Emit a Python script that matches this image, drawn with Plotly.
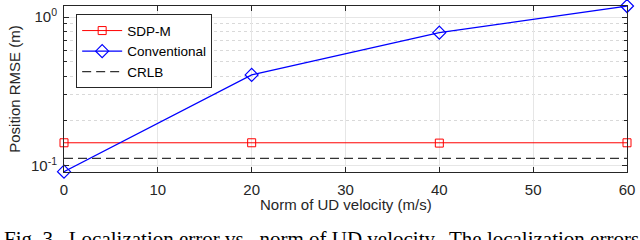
import plotly.graph_objects as go

velocity = [0, 20, 40, 60]
sdp_m = [0.1427, 0.1427, 0.1420, 0.1427]
conventional = [0.0912, 0.408, 0.785, 1.185]
crlb = [0.112, 0.112, 0.112, 0.112]
x_ticks = [0, 10, 20, 30, 40, 50, 60]
y_ticks = [0.1, 1]
y_ticktext = ["10<sup>-1</sup>", "10<sup>0</sup>"]
y_minor = [0.2, 0.3, 0.4, 0.5, 0.6, 0.7, 0.8, 0.9]

axis_color = "#262626"
font_main = "Liberation Sans, Arial, sans-serif"

fig = go.Figure()
fig.add_trace(go.Scatter(
    x=velocity, y=sdp_m, name="SDP-M", mode="lines+markers",
    line=dict(color="#ff0000", width=1),
    marker=dict(symbol="square-open", size=8, color="#ff0000", line=dict(width=1)),
    cliponaxis=False,
))
fig.add_trace(go.Scatter(
    x=velocity, y=conventional, name="Conventional", mode="lines+markers",
    line=dict(color="#0000ff", width=1.2),
    marker=dict(symbol="diamond-open", size=10, color="#0000ff", line=dict(width=1.2)),
    cliponaxis=False,
))
fig.add_trace(go.Scatter(
    x=velocity, y=crlb, name="CRLB", mode="lines",
    line=dict(color="#333333", width=1.2, dash="9px,5px"),
))

fig.update_layout(
    width=640, height=240,
    margin=dict(l=63.5, r=12.5, t=5.7, b=68.3, autoexpand=False),
    paper_bgcolor="white", plot_bgcolor="white",
    font=dict(family=font_main, size=15, color=axis_color),
    showlegend=True,
    legend=dict(
        x=0.0216, y=0.95, xanchor="left", yanchor="top",
        bgcolor="white", bordercolor=axis_color, borderwidth=1,
        font=dict(size=13.5, color="black"),
        tracegroupgap=0, itemwidth=40,
    ),
    xaxis=dict(
        range=[0, 60], tickvals=x_ticks, ticks="inside", ticklen=5,
        tickcolor=axis_color, showline=True, linecolor=axis_color, linewidth=1,
        mirror="ticks", showgrid=True, gridcolor="#e6e6e6", gridwidth=1,
        zeroline=False, ticklabelstandoff=4, automargin=False,
    ),
    yaxis=dict(
        type="log", range=[-1.042, 0.074], tickvals=y_ticks, ticktext=y_ticktext,
        ticks="inside", ticklen=5, tickcolor=axis_color,
        showline=True, linecolor=axis_color, linewidth=1, mirror="ticks",
        showgrid=True, gridcolor="#e6e6e6", gridwidth=1, zeroline=False,
        ticklabelstandoff=3, automargin=False,
        minor=dict(ticks="inside", ticklen=3, tickcolor=axis_color,
                   showgrid=True, gridcolor="#d9d9d9", griddash="dot",
                   tickvals=y_minor),
        title=dict(text="Position RMSE (m)", standoff=6, font=dict(size=15)),
    ),
)

fig.add_annotation(
    xref="paper", yref="paper", x=0.5, y=-0.195, xanchor="center", yanchor="middle",
    text="Norm of UD velocity (m/s)", showarrow=False,
    font=dict(family=font_main, size=15, color=axis_color),
)

fig.add_annotation(
    xref="paper", yref="paper", x=-0.1108, y=-0.4054, xanchor="left", yanchor="middle",
    text="Fig. 3.&nbsp; Localization error vs.&nbsp; norm of UD velocity.&nbsp; The localization errors",
    showarrow=False,
    font=dict(family="Liberation Serif, Times New Roman, serif", size=21, color="black"),
)

fig.write_html("out.html", config={"displayModeBar": False},
               post_script="document.body.style.margin='0';")
